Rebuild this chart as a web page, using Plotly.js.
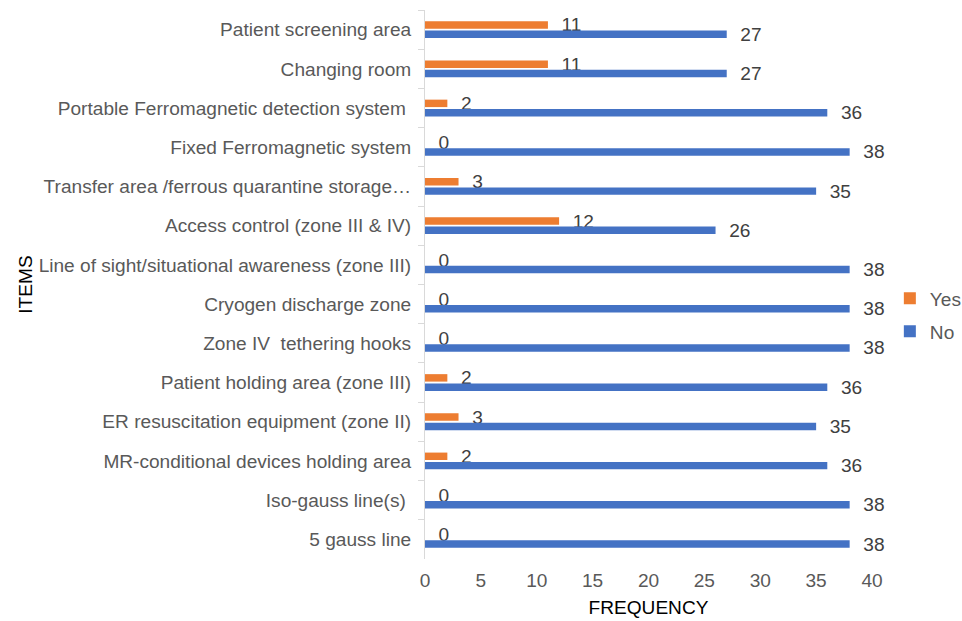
<!DOCTYPE html>
<html>
<head>
<meta charset="utf-8">
<script src="https://cdn.plot.ly/plotly-3.0.1.min.js"></script>
<style>html,body{margin:0;padding:0;background:#fff;}#chart{width:962px;height:621px;}</style>
</head>
<body>
<div id="chart"></div>
<script>
const categories = [
  "Patient screening area",
  "Changing room",
  "Portable Ferromagnetic detection system\u00a0",
  "Fixed Ferromagnetic system",
  "Transfer area /ferrous quarantine storage\u2026",
  "Access control (zone III & IV)",
  "Line of sight/situational awareness (zone III)",
  "Cryogen discharge zone",
  "Zone IV \u00a0tethering hooks",
  "Patient holding area (zone III)",
  "ER resuscitation equipment (zone II)",
  "MR-conditional devices holding area",
  "Iso-gauss line(s)\u00a0",
  "5 gauss line"
];
const yesValues = [11, 11, 2, 0, 3, 12, 0, 0, 0, 2, 3, 2, 0, 0];
const noValues  = [27, 27, 36, 38, 35, 26, 38, 38, 38, 36, 35, 36, 38, 38];
const xTicks = [0, 5, 10, 15, 20, 25, 30, 35, 40];

const FONT = "Liberation Sans, Arial, sans-serif";
const FS = 19.1;
const labelFont = {family: FONT, size: FS, color: "#404040"};

const traces = [
  {
    type: "bar", orientation: "h", name: "Yes",
    y: categories, x: yesValues,
    marker: {color: "#ED7D31"},
    text: yesValues.map(String),
    texttemplate: "\u00a0\u00a0%{text}",
    textposition: "outside", constraintext: "none", cliponaxis: false,
    textfont: labelFont, legendgroup: "yes", hoverinfo: "x+y"
  },
  {
    type: "bar", orientation: "h", name: "No",
    y: categories, x: noValues,
    marker: {color: "#4472C4"},
    text: noValues.map(String),
    texttemplate: "\u00a0\u00a0%{text}",
    textposition: "outside", constraintext: "none", cliponaxis: false,
    textfont: labelFont, legendgroup: "no", hoverinfo: "x+y"
  }
];

const layout = {
  width: 962, height: 621,
  margin: {l: 425, r: 90, t: 10, b: 62, autoexpand: false},
  paper_bgcolor: "#fff", plot_bgcolor: "#fff",
  font: {family: FONT, color: "#595959", size: FS},
  barmode: "group", bargap: 0.525, bargroupgap: 0.2,
  showlegend: true,
  legend: {
    xref: "container", yref: "container",
    x: 0.925, y: 0.550, xanchor: "left", yanchor: "top",
    font: {family: FONT, size: FS, color: "#595959"},
    traceorder: "grouped", tracegroupgap: 5, itemwidth: 30,
    bgcolor: "rgba(0,0,0,0)"
  },
  xaxis: {
    range: [0, 40], tickvals: xTicks, ticktext: xTicks.map(String),
    showgrid: false, zeroline: false, showline: false, ticks: "",
    ticklabelstandoff: 8,
    tickfont: {family: FONT, size: FS, color: "#595959"},
    title: {text: "FREQUENCY", font: {family: FONT, size: FS, color: "#000"}, standoff: 10},
    fixedrange: true
  },
  yaxis: {
    type: "category", autorange: "reversed",
    showgrid: false, zeroline: false,
    showline: true, linecolor: "#d9d9d9", linewidth: 1,
    ticks: "outside", tickson: "boundaries", ticklen: 6, tickcolor: "#d9d9d9",
    ticklabelstandoff: 9,
    tickfont: {family: FONT, size: FS, color: "#595959"},
    title: {text: "ITEMS", font: {family: FONT, size: FS, color: "#000"}, standoff: 0},
    fixedrange: true
  }
};

Plotly.newPlot("chart", traces, layout, {displayModeBar: false, staticPlot: true});
</script>
</body>
</html>
